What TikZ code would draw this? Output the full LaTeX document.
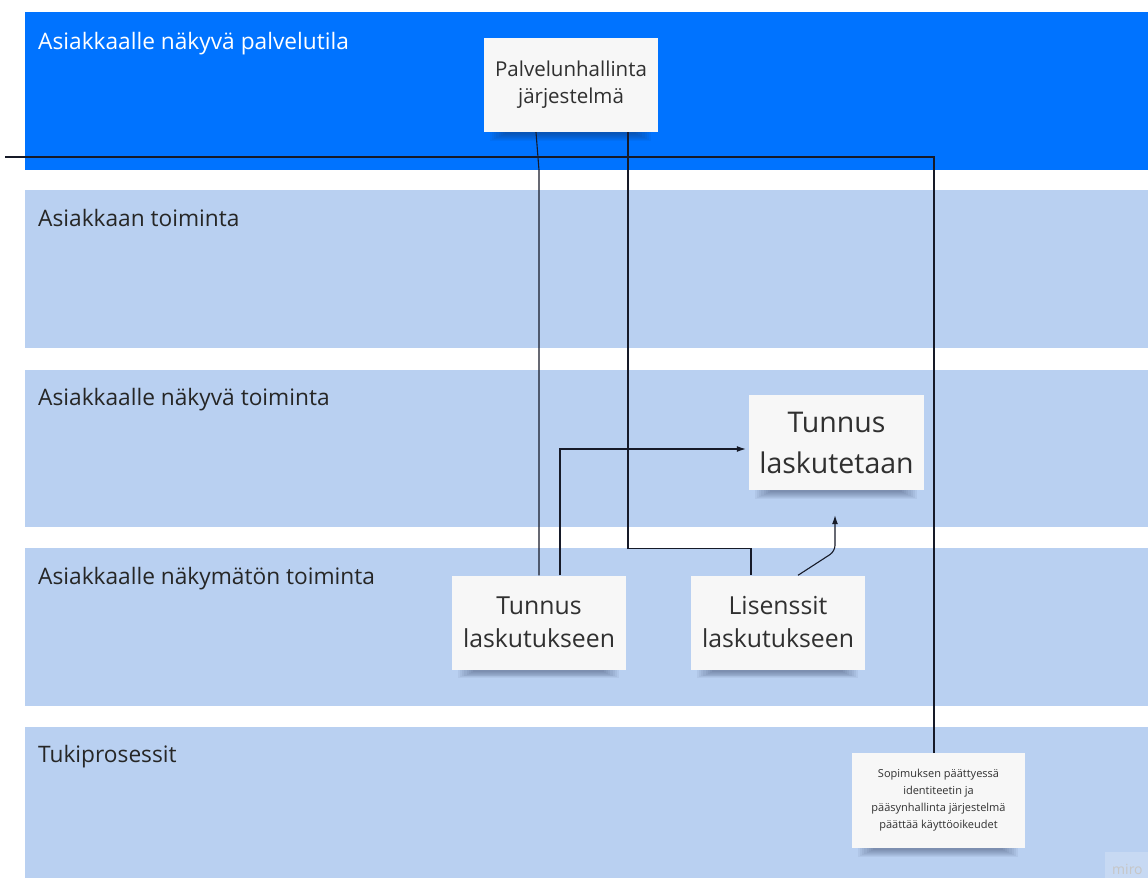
\documentclass[tikz,border=0pt]{standalone}
\usepackage{fontspec}
\setmainfont{Open Sans}
\usetikzlibrary{arrows.meta}
\definecolor{laneblue}{RGB}{0,115,255}
\definecolor{lanelight}{RGB}{185,208,241}
\definecolor{notefill}{RGB}{247,247,247}
\definecolor{inkgray}{RGB}{48,48,48}
\definecolor{wire}{RGB}{22,26,40}
\definecolor{shadowink}{RGB}{30,40,70}

\begin{document}
\begin{tikzpicture}[x=1pt,y=-1pt,
  lanelabel/.style={anchor=base west, inner sep=0pt,
    font=\fontsize{22.7}{26}\selectfont, text=black!85},
  note/.style={fill=notefill, draw=none, align=center, text=inkgray,
    inner sep=0pt, minimum width=174pt, minimum height=94pt},
  palfont/.style={font=\fontsize{20.5}{27}\selectfont},
  bigfont/.style={font=\fontsize{28.5}{41}\selectfont},
  midfont/.style={font=\fontsize{24.8}{33}\selectfont},
  smallfont/.style={font=\fontsize{11}{17}\selectfont},
  wireline/.style={draw=wire, line width=1.1pt},
  tip/.style={-{Latex[length=9pt,width=6pt]}}
]
\useasboundingbox (0,0) rectangle (1148,878);
\fill[white] (0,0) rectangle (1148,878);

% swimlanes
\fill[laneblue]  (25,12)  rectangle (1148,170);
\fill[lanelight] (25,190) rectangle (1148,348);
\fill[lanelight] (25,370) rectangle (1148,527);
\fill[lanelight] (25,548) rectangle (1148,706);
\fill[lanelight] (25,727) rectangle (1148,878);

\node[lanelabel, text=white] (l1) at (38,49)  {Asiakkaalle näkyvä palvelutila};
\node[lanelabel] (l2) at (38,226) {Asiakkaan toiminta};
\node[lanelabel] (l3) at (38,405) {Asiakkaalle näkyvä toiminta};
\node[lanelabel] (l4) at (38,584) {Asiakkaalle näkymätön toiminta};
\node[lanelabel] (l5) at (38,762) {Tukiprosessit};

% sticky notes (placed first so connectors can refer to them,
% redrawn on top afterwards)
\path
  node[note, palfont] (pal) at (571,85)
    {Palvelunhallinta\\järjestelmä}
  node[note, bigfont, minimum width=175pt, minimum height=95pt] (tl2) at (836.5,442.5)
    {Tunnus\\laskutetaan}
  node[note, midfont] (tl1) at (539,622.5)
    {Tunnus\\laskutukseen}
  node[note, midfont] (lis) at (778,622.5)
    {Lisenssit\\laskutukseen}
  node[note, smallfont, minimum width=173pt, minimum height=95pt] (sop) at (938.5,800.5)
    {Sopimuksen päättyessä\\identiteetin ja\\pääsynhallinta järjestelmä\\päättää käyttöoikeudet};

% connectors
\coordinate (edge) at (5,157);
\draw[wireline] (edge) -| ([xshift=-4.5pt]sop.north);
\draw[wireline] ([xshift=-35pt]pal.south) -- ++(3,38) -- (tl1.north);
\draw[wireline] ([xshift=57pt]pal.south) -- ++(0,416) -| ([xshift=-27pt]lis.north);
\draw[wireline, tip] ([xshift=21pt]tl1.north) |- ([xshift=-3pt,yshift=-6.5pt]tl2.west);
\draw[wireline, tip, rounded corners=6pt] ([xshift=20pt]lis.north) -- ++(37,-24)
  -- ([xshift=-1.5pt,yshift=-25pt]tl2.south);

% soft shadows under the notes, built from stacked translucent strips
\foreach \n in {pal,tl2,tl1,lis,sop}{
  \foreach \k in {0,...,7}{
    \fill[shadowink, opacity=0.055]
      ([xshift={(6+2.2*\k)*1pt}, yshift=20pt]\n.south west)
      rectangle ([xshift={-(7+2.2*\k)*1pt}, yshift={-(8.5-0.9*\k)*1pt}]\n.south east);
  }
}

% notes on top of the connectors and shadows
\path
  node[note, palfont] at (pal)
    {Palvelunhallinta\\järjestelmä}
  node[note, bigfont, minimum width=175pt, minimum height=95pt] at (tl2)
    {Tunnus\\laskutetaan}
  node[note, midfont] at (tl1)
    {Tunnus\\laskutukseen}
  node[note, midfont] at (lis)
    {Lisenssit\\laskutukseen}
  node[note, smallfont, minimum width=173pt, minimum height=95pt] at (sop)
    {Sopimuksen päättyessä\\identiteetin ja\\pääsynhallinta järjestelmä\\päättää käyttöoikeudet};

% watermark
\fill[white, opacity=0.2] (1105,852) rectangle (1148,878);
\node[anchor=base west, inner sep=0pt, text=gray!45, font=\fontsize{14}{14}\selectfont] (wm) at (1112,874) {miro};
\end{tikzpicture}
\end{document}
